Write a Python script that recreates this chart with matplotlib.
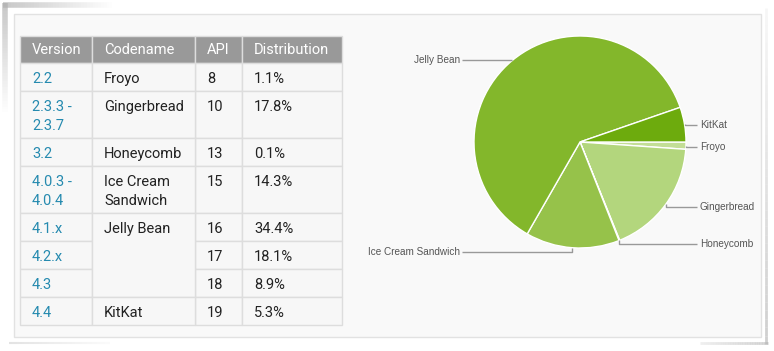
import numpy as np
import matplotlib
matplotlib.use("Agg")
import matplotlib.pyplot as plt
from matplotlib.patches import Rectangle
from matplotlib.collections import LineCollection

# table data
versions = ["2.2", "2.3.3 -\n2.3.7", "3.2", "4.0.3 -\n4.0.4", "4.1.x", "4.2.x", "4.3", "4.4"]
codenames = ["Froyo", "Gingerbread", "Honeycomb", "Ice Cream\nSandwich",
             "Jelly Bean", "Jelly Bean", "Jelly Bean", "KitKat"]
apis = [8, 10, 13, 15, 16, 17, 18, 19]
distribution = [1.1, 17.8, 0.1, 14.3, 34.4, 18.1, 8.9, 5.3]
headers = ["Version", "Codename", "API", "Distribution"]

# pie colours per codename
slice_colors = {"Froyo": "#c3de96", "Gingerbread": "#b3d67d", "Honeycomb": "#a6cd66",
                "Ice Cream Sandwich": "#96c24a", "Jelly Bean": "#83b72b", "KitKat": "#6dab0d"}
# label y (px) for the pie labels
label_y = {"Froyo": 147, "Gingerbread": 207, "Honeycomb": 244,
           "Ice Cream Sandwich": 252, "Jelly Bean": 60, "KitKat": 125}

W, H = 774, 351
fig = plt.figure(figsize=(W / 100, H / 100), dpi=100)
fig.patch.set_facecolor("white")
ax = fig.add_axes([0, 0, 1, 1])


def Y(py):
    return H - py


# card shadow (rough)
def fade_line(x0, y0, x1, y1, a0, a1, lw=3, color="#b0b0b0"):
    n = 40
    xs = np.linspace(x0, x1, n + 1)
    ys = np.linspace(y0, y1, n + 1)
    segs = [[(xs[i], Y(ys[i])), (xs[i + 1], Y(ys[i + 1]))] for i in range(n)]
    al = np.linspace(a0, a1, n)
    cols = [matplotlib.colors.to_rgba(color, a) for a in al]
    ax.add_collection(LineCollection(segs, colors=cols, linewidths=lw, capstyle="butt"))


fade_line(3, 5, 115, 5, 0.7, 0.0, lw=4)
fade_line(5, 3, 5, 115, 0.7, 0.0, lw=4)
fade_line(766, 8, 766, 344, 0.1, 0.6, lw=2)
fade_line(700, 343, 768, 343, 0.2, 0.6, lw=2)
fade_line(9, 343, 110, 343, 0.35, 0.05, lw=1.5)

# panel
ax.add_patch(Rectangle((14, Y(337)), 747, 323, facecolor="#f9f9f9",
                       edgecolor="#e2e2e2", lw=1))

# table geometry
col_x = [20, 92, 195, 242, 342]
head_top, head_bot = 36, 63
line_h = 19
row_h = [28 + line_h * (max(v.count("\n"), c.count("\n"))) for v, c in zip(versions, codenames)]
row_top = [head_bot]
for h in row_h:
    row_top.append(row_top[-1] + h)

grid = "#dddddd"
font = "Roboto"
fs = 10.5

# header
for j, name in enumerate(headers):
    ax.add_patch(Rectangle((col_x[j], Y(head_bot)), col_x[j + 1] - col_x[j],
                           head_bot - head_top, facecolor="#999999",
                           edgecolor="#dddddd", lw=1))
    ax.text(col_x[j] + 12, Y((head_top + head_bot) / 2 + 1), name, color="white",
            fontsize=fs, family=font, va="center", ha="left")


def cell(j, top, bot, txt, color):
    ax.add_patch(Rectangle((col_x[j], Y(bot)), col_x[j + 1] - col_x[j], bot - top,
                           facecolor="#f7f7f7", edgecolor=grid, lw=1))
    for k, line in enumerate(txt.split("\n")):
        ax.text(col_x[j] + 12, Y(top + 16 + k * line_h), line, color=color,
                fontsize=fs, family=font, va="center", ha="left")


n = len(versions)
for r in range(n):
    top, bot = row_top[r], row_top[r + 1]
    cell(0, top, bot, versions[r], "#258aaf")
    cell(2, top, bot, str(apis[r]), "#222222")
    cell(3, top, bot, f"{distribution[r]}%", "#222222")
# merged codename cells
r = 0
while r < n:
    r2 = r
    while r2 + 1 < n and codenames[r2 + 1] == codenames[r]:
        r2 += 1
    cell(1, row_top[r], row_top[r2 + 1], codenames[r], "#222222")
    r = r2 + 1

# pie data: sum distribution per codename
pie_names = []
pie_vals = []
for c, d in zip(codenames, distribution):
    c = c.replace("\n", " ")
    if c in pie_names:
        pie_vals[pie_names.index(c)] += d
    else:
        pie_names.append(c)
        pie_vals.append(d)

cx, cy, rad = 580, 142, 106
wedges, _ = ax.pie(pie_vals, colors=[slice_colors[c] for c in pie_names],
                   startangle=0, counterclock=False, center=(cx, Y(cy)), radius=rad,
                   wedgeprops=dict(edgecolor="white", linewidth=1))

for w, name in zip(wedges, pie_names):
    mid = np.deg2rad((w.theta1 + w.theta2) / 2)
    axp = cx + rad * np.cos(mid)
    ayp = cy - rad * np.sin(mid)
    ly = label_y[name]
    if np.cos(mid) >= 0:
        end_x, tx, ha = 697, 700, "left"
    else:
        end_x, tx, ha = 462, 460, "right"
    ax.plot([axp, axp, end_x], [Y(ayp), Y(ly), Y(ly)], color="#999999", lw=1,
            solid_capstyle="butt")
    ax.text(tx, Y(ly), name, fontsize=7.2, family="Liberation Sans", color="#555555",
            ha=ha, va="center")

ax.set_xlim(0, W)
ax.set_ylim(0, H)
ax.set_aspect("auto")
ax.axis("off")

fig.savefig("out.png", dpi=100, facecolor="white")
